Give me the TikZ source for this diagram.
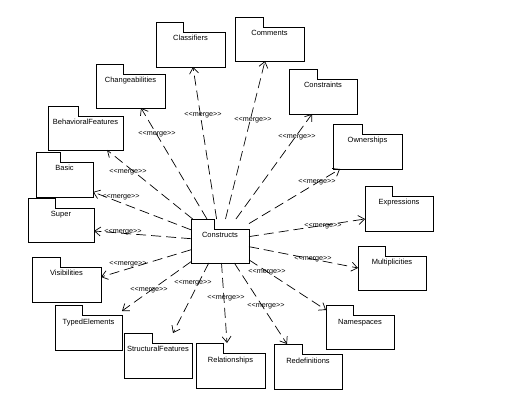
\documentclass[tikz,border=0pt]{standalone}
\usepackage{fontspec}
\setmainfont{Liberation Sans}
\usetikzlibrary{arrows.meta,calc}
\begin{document}
\begin{tikzpicture}[x=1pt,y=-1pt,
  % package: invisible box (tab row included), outline drawn afterwards
  pkg/.style n args={2}{minimum width=#1pt, minimum height=#2pt,
    inner sep=0pt, outer sep=0pt, text height=19pt, text depth=#2pt-19pt,
    font=\fontsize{7.5pt}{8pt}\selectfont},
  pkgline/.style={draw=black, line width=0.8pt, line join=miter},
  merge/.style={draw=black, line width=0.7pt, dash pattern=on 10pt off 5pt,
    -{Straight Barb[length=6pt,width=9pt,line width=0.7pt]}},
  tag/.style={inner sep=0pt, font=\fontsize{7.2pt}{8pt}\selectfont}]

\fill[white] (0,0) rectangle (522,403);
\useasboundingbox (0,0) rectangle (522,403);

\newcommand{\mergetxt}{<\kern0pt<merge>\kern0pt>}

% packages
\node[pkg={58}{44}] (con) at (220,241) {Constructs};
\node[pkg={69}{45}] (cls) at (190.5,44.5) {Classifiers};
\node[pkg={69}{44}] (com) at (269.5,39) {Comments};
\node[pkg={69}{44}] (chg) at (130.5,86) {Changeabilities};
\node[pkg={75}{44}] (beh) at (85.5,128) {BehavioralFeatures};
\node[pkg={57}{45}] (bas) at (64.5,174.5) {Basic};
\node[pkg={66}{44}] (sup) at (61,220) {Super};
\node[pkg={69}{45}] (vis) at (66.5,279.5) {Visibilities};
\node[pkg={67}{45}] (typ) at (88.5,327.5) {TypedElements};
\node[pkg={68}{45}] (stf) at (158,355.5) {StructuralFeatures};
\node[pkg={69}{45}] (rel) at (230.5,365.5) {Relationships};
\node[pkg={68}{45}] (red) at (308,366.5) {Redefinitions};
\node[pkg={68}{44}] (nsp) at (360,327) {Namespaces};
\node[pkg={68}{44}] (mul) at (392,268) {Multiplicities};
\node[pkg={68}{45}] (exp) at (399,208.5) {Expressions};
\node[pkg={69}{45}] (own) at (367.5,146.5) {Ownerships};
\node[pkg={68}{45}] (cst) at (323,91.5) {Constraints};

% folder outlines: tab at the top left, body below
\foreach \n/\t in {con/23, cls/27, com/28, chg/27, beh/30, bas/24, sup/27,
    vis/28, typ/27, stf/28, rel/27, red/28, nsp/27, mul/27, exp/27, own/29, cst/28}
  \draw[pkgline] (\n.north west) -- ++(\t,0) -- ++(0,10)
    -| (\n.south east) -- (\n.south west) -- cycle;

% merge dependencies
\draw[merge] (con) -- ($(cls.south)+(2.5,0)$);
\draw[merge] (con) -- ($(com.south)+(-4.5,0)$);
\draw[merge] (con) -- ($(chg.south)+(10.5,0)$);
\draw[merge] (con) -- ($(beh.south)+(21.5,0)$);
\draw[merge] (con) -- ($(bas.east)+(0,17.5)$);
\draw[merge] (con) -- ($(sup.east)+(0,11)$);
\draw[merge] (con) -- ($(vis.east)+(0,-2.5)$);
\draw[merge] (con) -- ($(typ.east)+(0,-16.5)$);
\draw[merge] (con) -- ($(stf.north)+(15,0)$);
\draw[merge] (con) -- ($(rel.north)+(-3.5,0)$);
\draw[merge] (con) -- ($(red.north)+(-21,0)$);
\draw[merge] (con) -- ($(nsp.west)+(0,-17)$);
\draw[merge] (con) -- (mul.west);
\draw[merge] (con) -- ($(exp.west)+(0,10.5)$);
\draw[merge] (con) -- ($(own.south)+(-27.5,0)$);
\draw[merge] (con) -- ($(cst.south)+(-11,0)$);

% stereotype labels
\node[tag] (m1) at (203,115) {\mergetxt};
\node[tag] (m2) at (253,120) {\mergetxt};
\node[tag] (m3) at (157,134) {\mergetxt};
\node[tag] (m4) at (128,172) {\mergetxt};
\node[tag] (m5) at (121,197) {\mergetxt};
\node[tag] (m6) at (123,232) {\mergetxt};
\node[tag] (m7) at (128,264) {\mergetxt};
\node[tag] (m8) at (149,290) {\mergetxt};
\node[tag] (m9) at (193,283) {\mergetxt};
\node[tag] (m10) at (226,298) {\mergetxt};
\node[tag] (m11) at (266,306) {\mergetxt};
\node[tag] (m12) at (267,272) {\mergetxt};
\node[tag] (m13) at (313,259) {\mergetxt};
\node[tag] (m14) at (323,226) {\mergetxt};
\node[tag] (m15) at (317,182) {\mergetxt};
\node[tag] (m16) at (297,137) {\mergetxt};
\end{tikzpicture}
\end{document}
